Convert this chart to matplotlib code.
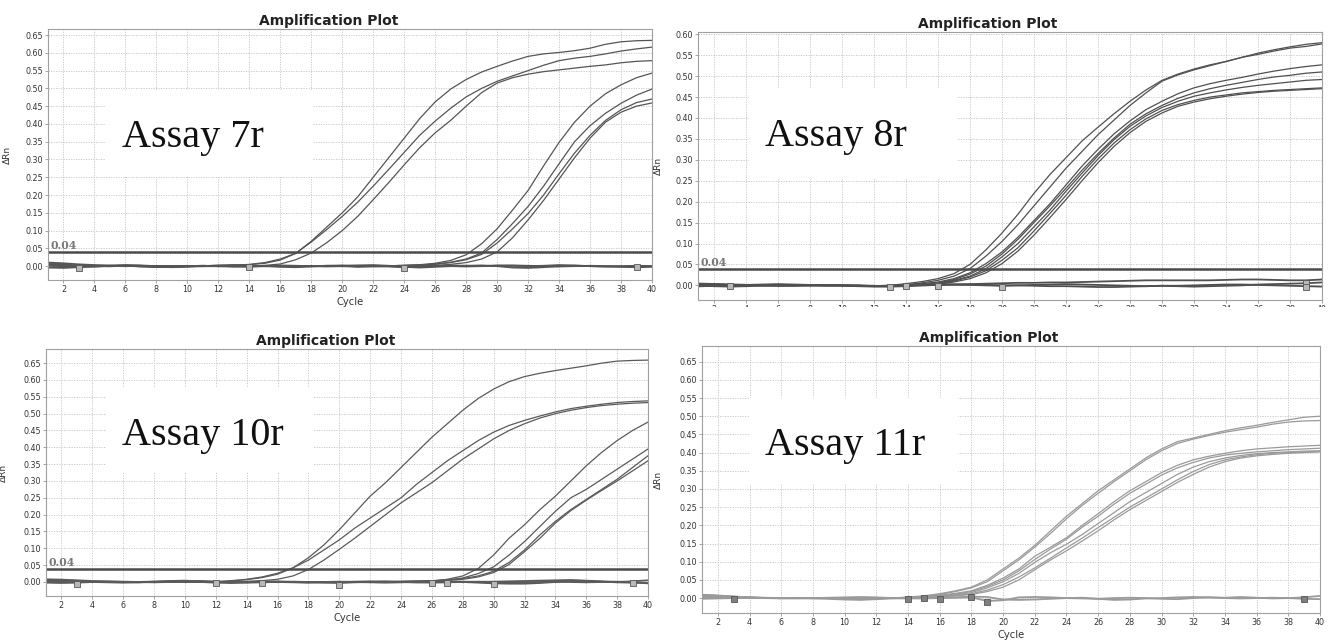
import matplotlib
matplotlib.use('Agg')
import matplotlib.pyplot as plt
from matplotlib.patches import Rectangle
from matplotlib.transforms import Bbox, TransformedBbox, blended_transform_factory

cycles = list(range(1, 41))

# ---- Assay 7r: three early curves, four late curves, flat negatives
a7_curves = [
    [0.006, 0.004, 0.002, 0.001, 0.000, -0.001, 0.000, 0.001, 0.000, -0.001, 0.000, 0.001, 0.002, 0.005, 0.010, 0.020, 0.036, 0.070, 0.110, 0.150,
     0.195, 0.250, 0.305, 0.360, 0.415, 0.462, 0.498, 0.525, 0.546, 0.562, 0.577, 0.590, 0.597, 0.601, 0.606, 0.613, 0.624, 0.631, 0.634, 0.635],
    [0.004, 0.003, 0.002, 0.000, -0.001, 0.000, 0.001, 0.000, -0.001, 0.000, 0.001, 0.002, 0.003, 0.004, 0.008, 0.017, 0.036, 0.068, 0.103, 0.140,
     0.180, 0.225, 0.272, 0.320, 0.368, 0.408, 0.444, 0.476, 0.500, 0.520, 0.535, 0.550, 0.565, 0.578, 0.585, 0.590, 0.597, 0.605, 0.611, 0.616],
    [0.002, 0.001, 0.000, -0.001, 0.000, 0.001, 0.000, -0.001, 0.000, 0.000, -0.001, 0.000, 0.001, 0.000, 0.002, 0.006, 0.018, 0.037, 0.066, 0.100,
     0.140, 0.187, 0.235, 0.285, 0.333, 0.375, 0.410, 0.450, 0.488, 0.515, 0.530, 0.540, 0.547, 0.552, 0.557, 0.562, 0.566, 0.572, 0.576, 0.578],
    [0.007, 0.005, 0.003, 0.002, 0.001, 0.000, -0.001, 0.000, 0.001, 0.000, -0.001, -0.001, 0.000, 0.001, 0.000, -0.001, 0.000, 0.000, 0.001, 0.000,
     -0.001, 0.000, 0.001, 0.002, 0.004, 0.008, 0.016, 0.032, 0.063, 0.105, 0.158, 0.213, 0.282, 0.348, 0.405, 0.450, 0.485, 0.510, 0.530, 0.543],
    [0.005, 0.004, 0.002, 0.001, 0.000, 0.000, -0.001, -0.002, -0.001, 0.000, 0.001, 0.000, -0.001, 0.000, 0.001, 0.000, -0.001, -0.001, 0.000, 0.001,
     0.000, 0.000, 0.001, 0.002, 0.003, 0.006, 0.011, 0.020, 0.037, 0.075, 0.120, 0.168, 0.225, 0.288, 0.350, 0.395, 0.430, 0.458, 0.481, 0.498],
    [0.003, 0.002, 0.001, 0.000, -0.001, 0.000, 0.001, 0.001, 0.000, -0.001, 0.000, 0.000, 0.001, 0.000, -0.001, 0.000, 0.000, 0.001, 0.000, -0.001,
     0.000, 0.001, 0.001, 0.002, 0.003, 0.005, 0.010, 0.018, 0.033, 0.065, 0.105, 0.148, 0.200, 0.260, 0.318, 0.368, 0.410, 0.440, 0.460, 0.470],
    [0.001, 0.000, -0.001, 0.000, 0.001, 0.000, -0.001, 0.000, 0.000, 0.001, 0.000, -0.001, 0.000, 0.001, 0.000, 0.000, -0.001, 0.000, 0.001, 0.000,
     -0.001, 0.000, 0.000, 0.001, 0.001, 0.002, 0.005, 0.010, 0.020, 0.040, 0.080, 0.130, 0.185, 0.245, 0.305, 0.360, 0.405, 0.433, 0.450, 0.459],
]
a7_base = [
    [0.010, 0.008, 0.005, 0.003, 0.002, 0.001, -0.001, -0.003, -0.002, 0.000, 0.001, 0.000, -0.001, 0.000, 0.001, 0.000, -0.001, 0.000, 0.001, 0.000,
     -0.002, -0.001, 0.000, -0.002, -0.004, -0.002, 0.000, 0.001, 0.002, 0.000, -0.004, -0.005, -0.003, 0.000, 0.001, 0.000, -0.001, -0.002, -0.003, -0.002],
    [-0.004, -0.005, -0.003, -0.001, 0.000, 0.002, 0.001, -0.001, -0.003, -0.002, 0.000, 0.002, 0.003, 0.002, 0.000, -0.002, -0.003, -0.001, 0.001, 0.002,
     0.001, 0.000, -0.001, -0.003, -0.002, 0.000, 0.002, 0.001, 0.000, 0.002, 0.001, 0.000, 0.001, 0.003, 0.002, 0.000, -0.001, 0.000, 0.001, 0.000],
    [0.002, 0.000, -0.002, -0.001, 0.001, 0.003, 0.002, 0.000, -0.001, 0.000, 0.001, 0.000, -0.001, -0.002, 0.000, 0.002, 0.001, 0.000, -0.001, 0.000,
     0.002, 0.003, 0.001, -0.001, 0.000, 0.001, 0.000, -0.001, 0.000, 0.001, 0.002, 0.001, 0.000, -0.001, 0.000, 0.001, 0.000, -0.001, -0.001, 0.000],
]
a7_mark_x = [3, 14, 24, 39]
a7_mark_y = [-0.004, -0.002, -0.006, -0.003]

# ---- Assay 8r
a8_curves = [
    [0.004, 0.003, 0.002, 0.001, 0.000, -0.001, 0.000, 0.000, -0.001, 0.000, 0.000, -0.001, 0.000, 0.004, 0.009, 0.016, 0.028, 0.050, 0.085, 0.125,
     0.170, 0.220, 0.265, 0.305, 0.345, 0.378, 0.410, 0.440, 0.467, 0.490, 0.505, 0.517, 0.527, 0.535, 0.545, 0.555, 0.563, 0.570, 0.576, 0.580],
    [0.002, 0.001, 0.000, 0.000, 0.001, 0.000, -0.001, 0.000, 0.000, 0.000, -0.001, -0.002, -0.001, 0.001, 0.006, 0.012, 0.022, 0.040, 0.070, 0.105,
     0.145, 0.190, 0.235, 0.280, 0.320, 0.360, 0.395, 0.430, 0.460, 0.488, 0.503, 0.515, 0.525, 0.535, 0.545, 0.552, 0.560, 0.567, 0.571, 0.577],
    [0.005, 0.004, 0.003, 0.002, 0.001, 0.000, 0.000, -0.001, 0.000, 0.000, -0.001, -0.001, 0.000, 0.002, 0.004, 0.008, 0.016, 0.030, 0.052, 0.080,
     0.115, 0.155, 0.195, 0.240, 0.285, 0.325, 0.362, 0.393, 0.420, 0.440, 0.458, 0.472, 0.482, 0.490, 0.497, 0.505, 0.512, 0.518, 0.523, 0.527],
    [0.003, 0.002, 0.001, 0.000, 0.000, 0.001, 0.000, -0.001, -0.001, 0.000, 0.000, -0.002, -0.002, 0.000, 0.003, 0.006, 0.014, 0.027, 0.046, 0.075,
     0.110, 0.150, 0.190, 0.232, 0.275, 0.315, 0.352, 0.385, 0.410, 0.430, 0.447, 0.460, 0.470, 0.478, 0.485, 0.492, 0.498, 0.502, 0.507, 0.510],
    [0.001, 0.000, 0.000, 0.001, 0.001, 0.000, -0.001, 0.000, 0.000, -0.001, -0.001, -0.002, -0.001, 0.001, 0.002, 0.005, 0.012, 0.022, 0.040, 0.068,
     0.100, 0.140, 0.180, 0.225, 0.268, 0.310, 0.348, 0.380, 0.405, 0.425, 0.440, 0.452, 0.460, 0.467, 0.473, 0.478, 0.482, 0.486, 0.490, 0.492],
    [-0.001, -0.001, 0.000, 0.000, -0.001, 0.000, 0.000, 0.001, 0.000, 0.000, -0.001, -0.002, -0.002, 0.000, 0.002, 0.004, 0.010, 0.020, 0.035, 0.060,
     0.090, 0.130, 0.172, 0.215, 0.260, 0.302, 0.340, 0.372, 0.398, 0.418, 0.432, 0.442, 0.450, 0.455, 0.460, 0.463, 0.466, 0.468, 0.470, 0.472],
    [-0.003, -0.002, -0.001, 0.000, 0.000, -0.001, 0.000, 0.000, 0.001, 0.000, -0.001, -0.001, -0.002, -0.001, 0.001, 0.003, 0.008, 0.016, 0.030, 0.052,
     0.082, 0.120, 0.162, 0.205, 0.250, 0.293, 0.332, 0.365, 0.392, 0.412, 0.428, 0.438, 0.446, 0.452, 0.457, 0.461, 0.464, 0.466, 0.468, 0.470],
]
a8_base = [
    [0.003, 0.002, 0.001, 0.001, 0.002, 0.003, 0.002, 0.001, 0.000, 0.000, -0.001, -0.002, -0.002, -0.001, 0.000, 0.001, 0.002, 0.003, 0.004, 0.005,
     0.006, 0.006, 0.007, 0.007, 0.008, 0.009, 0.010, 0.011, 0.012, 0.012, 0.012, 0.012, 0.012, 0.013, 0.014, 0.014, 0.013, 0.012, 0.012, 0.014],
    [-0.002, -0.001, 0.000, 0.001, 0.000, -0.001, -0.001, 0.000, 0.000, -0.001, -0.002, -0.003, -0.003, -0.002, 0.000, 0.001, 0.002, 0.002, 0.001, 0.000,
     0.000, -0.001, -0.002, -0.002, -0.003, -0.004, -0.004, -0.003, -0.002, -0.001, -0.001, 0.000, 0.001, 0.002, 0.002, 0.001, 0.000, -0.001, -0.002, -0.003],
    [0.000, -0.002, -0.003, -0.002, -0.001, 0.000, 0.000, 0.001, 0.000, 0.000, 0.000, -0.001, -0.002, -0.001, 0.002, 0.003, 0.002, 0.001, 0.000, -0.001,
     0.000, 0.001, 0.002, 0.003, 0.002, 0.001, 0.000, -0.001, -0.002, -0.001, -0.002, -0.003, -0.002, -0.001, 0.000, 0.002, 0.003, 0.004, 0.005, 0.007],
]
a8_mark_x = [3, 13, 14, 16, 20, 39, 39]
a8_mark_y = [-0.002, -0.003, -0.002, -0.001, -0.004, 0.006, -0.004]

# ---- Assay 10r
a10_curves = [
    [0.006, 0.005, 0.004, 0.002, 0.001, 0.000, 0.001, 0.002, 0.001, 0.000, -0.001, 0.000, 0.004, 0.008, 0.015, 0.026, 0.042, 0.072, 0.110, 0.155,
     0.205, 0.255, 0.295, 0.340, 0.385, 0.430, 0.470, 0.510, 0.545, 0.573, 0.595, 0.610, 0.620, 0.628, 0.635, 0.642, 0.650, 0.656, 0.658, 0.659],
    [0.004, 0.004, 0.003, 0.001, 0.000, -0.001, 0.000, 0.001, 0.002, 0.001, 0.000, 0.001, 0.003, 0.007, 0.013, 0.023, 0.042, 0.065, 0.095, 0.125,
     0.160, 0.190, 0.220, 0.250, 0.290, 0.325, 0.360, 0.390, 0.420, 0.445, 0.465, 0.480, 0.493, 0.505, 0.515, 0.522, 0.528, 0.533, 0.536, 0.538],
    [0.002, 0.002, 0.001, 0.000, -0.001, 0.000, 0.000, 0.001, 0.000, 0.000, -0.001, 0.000, 0.001, 0.002, 0.004, 0.008, 0.018, 0.037, 0.065, 0.097,
     0.130, 0.165, 0.200, 0.235, 0.265, 0.295, 0.330, 0.365, 0.395, 0.425, 0.450, 0.470, 0.487, 0.500, 0.510, 0.518, 0.524, 0.528, 0.531, 0.533],
    [0.005, 0.004, 0.002, 0.001, 0.000, 0.000, 0.001, 0.000, -0.001, 0.000, 0.001, 0.002, 0.001, 0.000, -0.001, 0.000, 0.000, 0.001, 0.000, -0.001,
     0.000, 0.001, 0.001, 0.002, 0.002, 0.003, 0.008, 0.018, 0.040, 0.080, 0.130, 0.170, 0.215, 0.255, 0.300, 0.345, 0.385, 0.420, 0.450, 0.475],
    [0.003, 0.002, 0.001, 0.000, -0.001, 0.000, 0.001, 0.001, 0.000, -0.001, 0.000, 0.001, 0.000, -0.001, 0.000, 0.000, 0.001, 0.000, -0.001, 0.000,
     0.000, 0.001, 0.002, 0.001, 0.002, 0.003, 0.006, 0.012, 0.025, 0.045, 0.080, 0.120, 0.165, 0.210, 0.250, 0.275, 0.305, 0.335, 0.365, 0.395],
    [0.001, 0.001, 0.000, -0.001, 0.000, 0.001, 0.000, -0.001, 0.000, 0.000, -0.001, 0.000, 0.001, 0.000, 0.000, -0.001, 0.000, 0.001, 0.000, 0.000,
     -0.001, 0.000, 0.001, 0.002, 0.003, 0.004, 0.006, 0.010, 0.018, 0.032, 0.058, 0.095, 0.140, 0.180, 0.215, 0.245, 0.275, 0.305, 0.340, 0.375],
    [-0.001, 0.000, 0.001, 0.000, -0.001, 0.000, 0.000, 0.001, 0.000, -0.001, 0.000, 0.000, -0.001, 0.000, 0.001, 0.000, -0.001, 0.000, 0.000, 0.001,
     0.000, -0.001, 0.000, 0.001, 0.002, 0.003, 0.005, 0.008, 0.015, 0.028, 0.052, 0.090, 0.130, 0.175, 0.212, 0.243, 0.272, 0.300, 0.330, 0.360],
]
a10_base = [
    [0.008, 0.007, 0.005, 0.003, 0.002, 0.001, 0.000, -0.001, 0.000, 0.002, 0.003, 0.001, -0.001, -0.002, -0.001, 0.000, 0.001, 0.000, -0.002, -0.003,
     -0.001, 0.000, 0.001, 0.000, -0.001, 0.000, 0.001, 0.000, -0.002, -0.004, -0.005, -0.005, -0.003, 0.000, 0.002, 0.003, 0.001, -0.001, -0.002, -0.003],
    [-0.002, -0.003, -0.002, 0.000, 0.001, 0.000, -0.001, 0.000, 0.002, 0.001, 0.000, -0.002, -0.003, -0.001, 0.001, 0.002, 0.000, -0.001, 0.000, 0.001,
     0.000, -0.001, -0.002, -0.001, 0.000, 0.001, 0.002, 0.001, 0.000, 0.001, 0.002, 0.003, 0.004, 0.005, 0.006, 0.004, 0.002, 0.000, 0.002, 0.005],
    [0.004, 0.003, 0.001, 0.000, -0.001, -0.002, -0.001, 0.001, 0.003, 0.004, 0.002, 0.000, -0.001, 0.000, 0.001, 0.000, -0.001, -0.002, -0.001, 0.000,
     0.001, 0.002, 0.001, 0.000, -0.001, -0.002, -0.001, 0.000, 0.001, 0.000, -0.001, -0.001, 0.000, 0.001, 0.000, -0.001, 0.000, 0.001, -0.001, -0.004],
]
a10_mark_x = [3, 12, 15, 20, 26, 27, 30, 39]
a10_mark_y = [-0.005, -0.003, -0.002, -0.008, -0.002, -0.003, -0.006, -0.003]

# ---- Assay 11r
a11_curves = [
    [0.010, 0.008, 0.005, 0.003, 0.001, 0.000, 0.000, -0.001, 0.000, 0.000, -0.002, -0.001, 0.000, 0.003, 0.006, 0.012, 0.020, 0.030, 0.050, 0.080,
     0.110, 0.145, 0.185, 0.225, 0.260, 0.295, 0.325, 0.355, 0.385, 0.410, 0.430, 0.440, 0.450, 0.460, 0.468, 0.475, 0.483, 0.490, 0.497, 0.500],
    [0.008, 0.007, 0.004, 0.002, 0.001, 0.000, -0.001, 0.000, 0.000, -0.001, -0.002, -0.002, 0.000, 0.002, 0.005, 0.010, 0.018, 0.028, 0.045, 0.075,
     0.105, 0.140, 0.178, 0.218, 0.255, 0.288, 0.320, 0.350, 0.380, 0.405, 0.425, 0.437, 0.447, 0.456, 0.463, 0.470, 0.478, 0.484, 0.487, 0.488],
    [0.006, 0.005, 0.003, 0.002, 0.000, 0.000, 0.001, 0.000, -0.001, -0.002, -0.001, 0.000, 0.001, 0.001, 0.004, 0.008, 0.013, 0.020, 0.035, 0.055,
     0.080, 0.115, 0.140, 0.166, 0.200, 0.232, 0.265, 0.295, 0.320, 0.345, 0.365, 0.380, 0.390, 0.398, 0.405, 0.410, 0.413, 0.416, 0.418, 0.420],
    [0.004, 0.004, 0.002, 0.001, 0.000, -0.001, 0.000, 0.000, -0.001, -0.003, -0.002, 0.000, 0.000, 0.001, 0.003, 0.007, 0.011, 0.018, 0.032, 0.050,
     0.075, 0.106, 0.135, 0.162, 0.195, 0.225, 0.258, 0.288, 0.313, 0.338, 0.358, 0.373, 0.385, 0.393, 0.398, 0.402, 0.405, 0.408, 0.410, 0.412],
    [0.003, 0.002, 0.001, 0.000, 0.000, 0.001, 0.000, -0.001, -0.001, -0.002, -0.001, 0.000, 0.001, 0.000, 0.002, 0.005, 0.009, 0.015, 0.028, 0.045,
     0.068, 0.098, 0.125, 0.148, 0.175, 0.205, 0.235, 0.265, 0.290, 0.315, 0.340, 0.360, 0.375, 0.385, 0.392, 0.397, 0.400, 0.402, 0.404, 0.405],
    [0.002, 0.001, 0.000, 0.000, -0.001, 0.000, 0.001, 0.000, -0.001, -0.003, -0.003, -0.001, 0.000, 0.000, 0.001, 0.004, 0.007, 0.012, 0.022, 0.037,
     0.058, 0.083, 0.110, 0.138, 0.165, 0.194, 0.222, 0.250, 0.275, 0.300, 0.325, 0.348, 0.367, 0.380, 0.388, 0.394, 0.398, 0.400, 0.402, 0.403],
    [0.000, 0.000, -0.001, 0.000, 0.000, -0.001, 0.000, 0.001, 0.000, -0.002, -0.002, -0.001, 0.000, -0.001, 0.001, 0.003, 0.006, 0.010, 0.018, 0.030,
     0.050, 0.078, 0.105, 0.130, 0.157, 0.185, 0.215, 0.243, 0.268, 0.293, 0.318, 0.340, 0.360, 0.375, 0.385, 0.391, 0.395, 0.398, 0.400, 0.402],
]
a11_base = [
    [0.008, 0.006, 0.004, 0.002, 0.001, 0.000, 0.000, -0.001, -0.002, -0.004, -0.005, -0.003, -0.001, 0.000, 0.000, 0.001, 0.002, 0.004, 0.003, -0.004,
     -0.005, -0.004, -0.002, 0.000, 0.001, -0.002, -0.005, -0.004, -0.001, 0.000, 0.002, 0.003, 0.002, 0.000, -0.001, 0.000, 0.001, 0.000, 0.002, 0.006],
    [-0.002, -0.001, 0.000, 0.001, 0.000, -0.001, -0.001, 0.000, 0.001, 0.002, 0.003, 0.002, 0.000, -0.001, -0.001, 0.000, 0.001, 0.002, -0.008, -0.006,
     0.002, 0.003, 0.002, 0.000, -0.001, -0.002, 0.000, 0.001, 0.000, -0.002, -0.003, 0.000, 0.002, 0.001, 0.003, 0.001, -0.001, 0.000, -0.002, -0.003],
]
a11_mark_x = [3, 14, 15, 16, 18, 19, 39]
a11_mark_y = [-0.002, -0.002, 0.000, -0.002, 0.004, -0.010, -0.003]

THRESHOLD = 0.04

fig = plt.figure(figsize=(13.35, 6.4), dpi=100)


def draw_panel(rect, curves, baselines, mk_x, mk_y, ylim, n_yticks, name, box, name_xy,
               color, mk_color, label_x, threshold=True, xlabel=True):
    ax = fig.add_axes(rect)
    ax.set_xlim(1, 40)
    ax.set_ylim(*ylim)
    ax.set_xticks(range(2, 41, 2))
    yt = [i * 0.05 for i in range(n_yticks)]
    ax.set_yticks(yt)
    ax.set_yticklabels(['%.2f' % v for v in yt])
    ax.set_axisbelow(True)
    ax.grid(True, color='#c4c4c4', linestyle=(0, (1.5, 1.5)), linewidth=0.6)

    # white box behind the assay name
    ax.add_patch(Rectangle((box[0], box[1]), box[2] - box[0], box[3] - box[1],
                           transform=ax.transAxes, facecolor='white',
                           edgecolor='none', zorder=0.8))

    for b in baselines:
        ax.plot(cycles, b, color=color, lw=1.3, zorder=2)
    for c in curves:
        ax.plot(cycles, c, color=color, lw=0.9, zorder=2)
    ax.plot(mk_x, mk_y, 's', ms=3.8, mfc=mk_color, mec='#555555', mew=0.6,
            ls='none', zorder=3)

    if threshold:
        ax.axhline(THRESHOLD, color='#4a4a4a', lw=1.8, zorder=2.5)
        trans = blended_transform_factory(ax.transAxes, ax.transData)
        ax.text(0.004, THRESHOLD + 0.002, '%.2f' % THRESHOLD, transform=trans,
                fontfamily='DejaVu Serif', fontweight='bold', fontsize=7.8,
                color='#777777', va='bottom', ha='left', zorder=4)

    ax.text(name_xy[0], name_xy[1], name, transform=ax.transAxes,
            fontfamily='Liberation Serif', fontsize=29, color='#111111',
            va='baseline', ha='left', zorder=4)

    ax.set_title('Amplification Plot', fontweight='bold', fontsize=10,
                 color='#222222', x=0.464, pad=3)
    for s in ax.spines.values():
        s.set_color('#a0a0a0')
        s.set_linewidth(0.8)
    ax.tick_params(labelsize=5.8, length=2, width=0.6, color='#999999',
                   labelcolor='#333333', pad=1.5)
    ax.set_ylabel('ΔRn', fontsize=6.5, color='#333333')
    ax.yaxis.set_label_coords(label_x, 0.5)
    if xlabel:
        ax.set_xlabel('Cycle', fontsize=7.2, color='#333333', labelpad=2)
    return ax


draw_panel([48 / 1335, 1 - 280 / 640, 604 / 1335, 251 / 640],
           a7_curves, a7_base, a7_mark_x, a7_mark_y, (-0.039, 0.667), 14,
           'Assay 7r', (0.096, 0.41, 0.439, 0.757), (0.123, 0.53),
           '#555555', '#b8b8b8', -0.06)

ax2 = draw_panel([698 / 1335, 1 - 300 / 640, 624 / 1335, 268 / 640],
                 a8_curves, a8_base, a8_mark_x, a8_mark_y, (-0.035, 0.6055), 13,
                 'Assay 8r', (0.082, 0.455, 0.415, 0.791), (0.107, 0.575),
                 '#505050', '#b8b8b8', -0.056, xlabel=False)
# the lower part of the tick labels is cut off in the source picture
clip = TransformedBbox(Bbox([[0.5, 1 - 307 / 640], [1, 1]]), fig.transFigure)
for t in ax2.get_xticklabels():
    t.set_clip_box(clip)
    t.set_clip_on(True)

draw_panel([46 / 1335, 1 - 596 / 640, 602 / 1335, 247 / 640],
           a10_curves, a10_base, a10_mark_x, a10_mark_y, (-0.0416, 0.692), 14,
           'Assay 10r', (0.0997, 0.502, 0.4435, 0.842), (0.126, 0.611),
           '#5a5a5a', '#b8b8b8', -0.063)

draw_panel([702 / 1335, 1 - 613 / 640, 618 / 1335, 267 / 640],
           a11_curves, a11_base, a11_mark_x, a11_mark_y, (-0.041, 0.693), 14,
           'Assay 11r', (0.076, 0.481, 0.414, 0.807), (0.102, 0.591),
           '#9a9a9a', '#808080', -0.063, threshold=False)

fig.savefig('out.png', dpi=100)
